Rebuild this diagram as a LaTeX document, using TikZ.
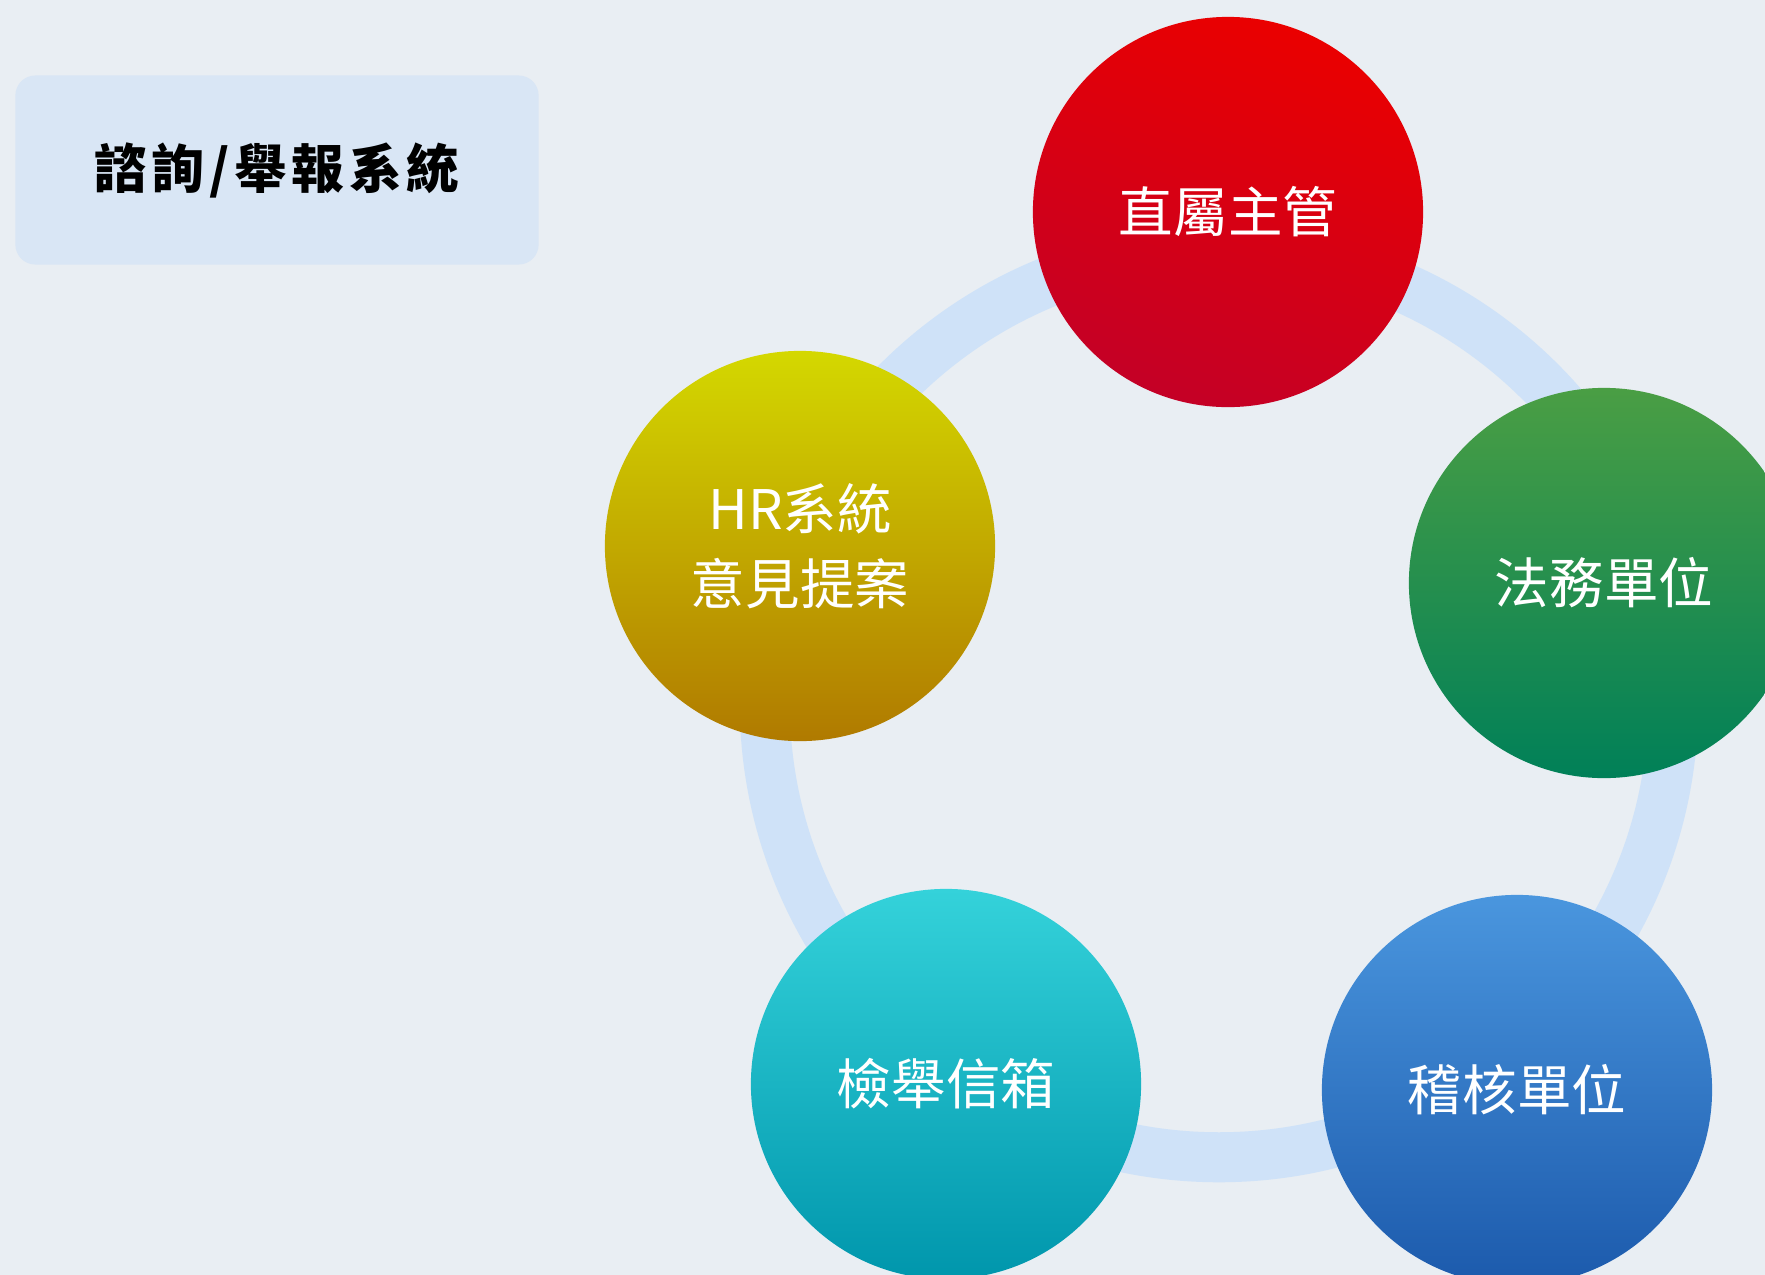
\documentclass[tikz,border=0pt]{standalone}
\usepackage{fontspec}
\setmainfont{Noto Sans CJK TC}
\newfontfamily\cjk{Noto Sans CJK TC}
\newfontfamily\cjktitle[LetterSpace=9]{Noto Sans CJK TC}
\usepackage{xcolor}
\definecolor{pagebg}{RGB}{233,238,243}
\definecolor{titlebg}{RGB}{217,230,245}
\definecolor{ringblue}{RGB}{207,226,248}
\definecolor{redtop}{RGB}{234,0,0}
\definecolor{redbot}{RGB}{196,0,38}
\definecolor{greentop}{RGB}{74,158,68}
\definecolor{greenbot}{RGB}{0,128,88}
\definecolor{bluetop}{RGB}{74,150,222}
\definecolor{bluebot}{RGB}{28,90,172}
\definecolor{cyantop}{RGB}{52,210,218}
\definecolor{cyanmid}{RGB}{0,186,200}
\definecolor{cyanbot}{RGB}{0,150,172}
\definecolor{yeltop}{RGB}{212,216,0}
\definecolor{yelbot}{RGB}{176,122,0}
\usepackage{tikz}
\usetikzlibrary{calc}
\tikzset{
  unit_node/.style={circle,draw=none,
    minimum size=3.9cm,inner sep=0pt,
    align=center,text=white,
    font=\cjk\fontsize{15.5}{21.3}\selectfont},
  title_box/.style={rectangle,rounded corners=0.2cm,
    fill=titlebg,draw=none,
    minimum width=5.23cm,minimum height=1.89cm,
    font=\cjktitle\bfseries\fontsize{15}{20}\selectfont},
  ring_line/.style={draw=ringblue,line width=0.5cm},
}

\begin{document}
\begin{tikzpicture}[x=0.01cm,y=-0.01cm]
  % page frame, 1765 x 1275
  \fill[pagebg] (0,0) rectangle (1765,1275);
  \useasboundingbox (0,0) rectangle (1765,1275);
  \clip (0,0) rectangle (1765,1275);

  \node (title) [title_box] at (277,170) {諮詢/舉報系統};

  % ring behind the circles
  \coordinate (ringc) at (1219,703);
  \draw[ring_line] (ringc) circle (4.54cm);

  \node (boss)  [unit_node,top color=redtop,bottom color=redbot,
                 shading angle=-20] at (1228,212) {直屬主管};
  \node (legal) [unit_node,top color=greentop,bottom color=greenbot]
                 at (1604,583) {法務單位};
  \node (audit) [unit_node,top color=bluetop,bottom color=bluebot]
                 at (1517,1090) {稽核單位};
  \node (mail)  [unit_node,top color=cyantop,middle color=cyanmid,
                 bottom color=cyanbot] at (946,1084) {檢舉信箱};
  \node (hr)    [unit_node,top color=yeltop,bottom color=yelbot]
                 at (800,546) {HR系統\\意見提案};
\end{tikzpicture}
\end{document}
